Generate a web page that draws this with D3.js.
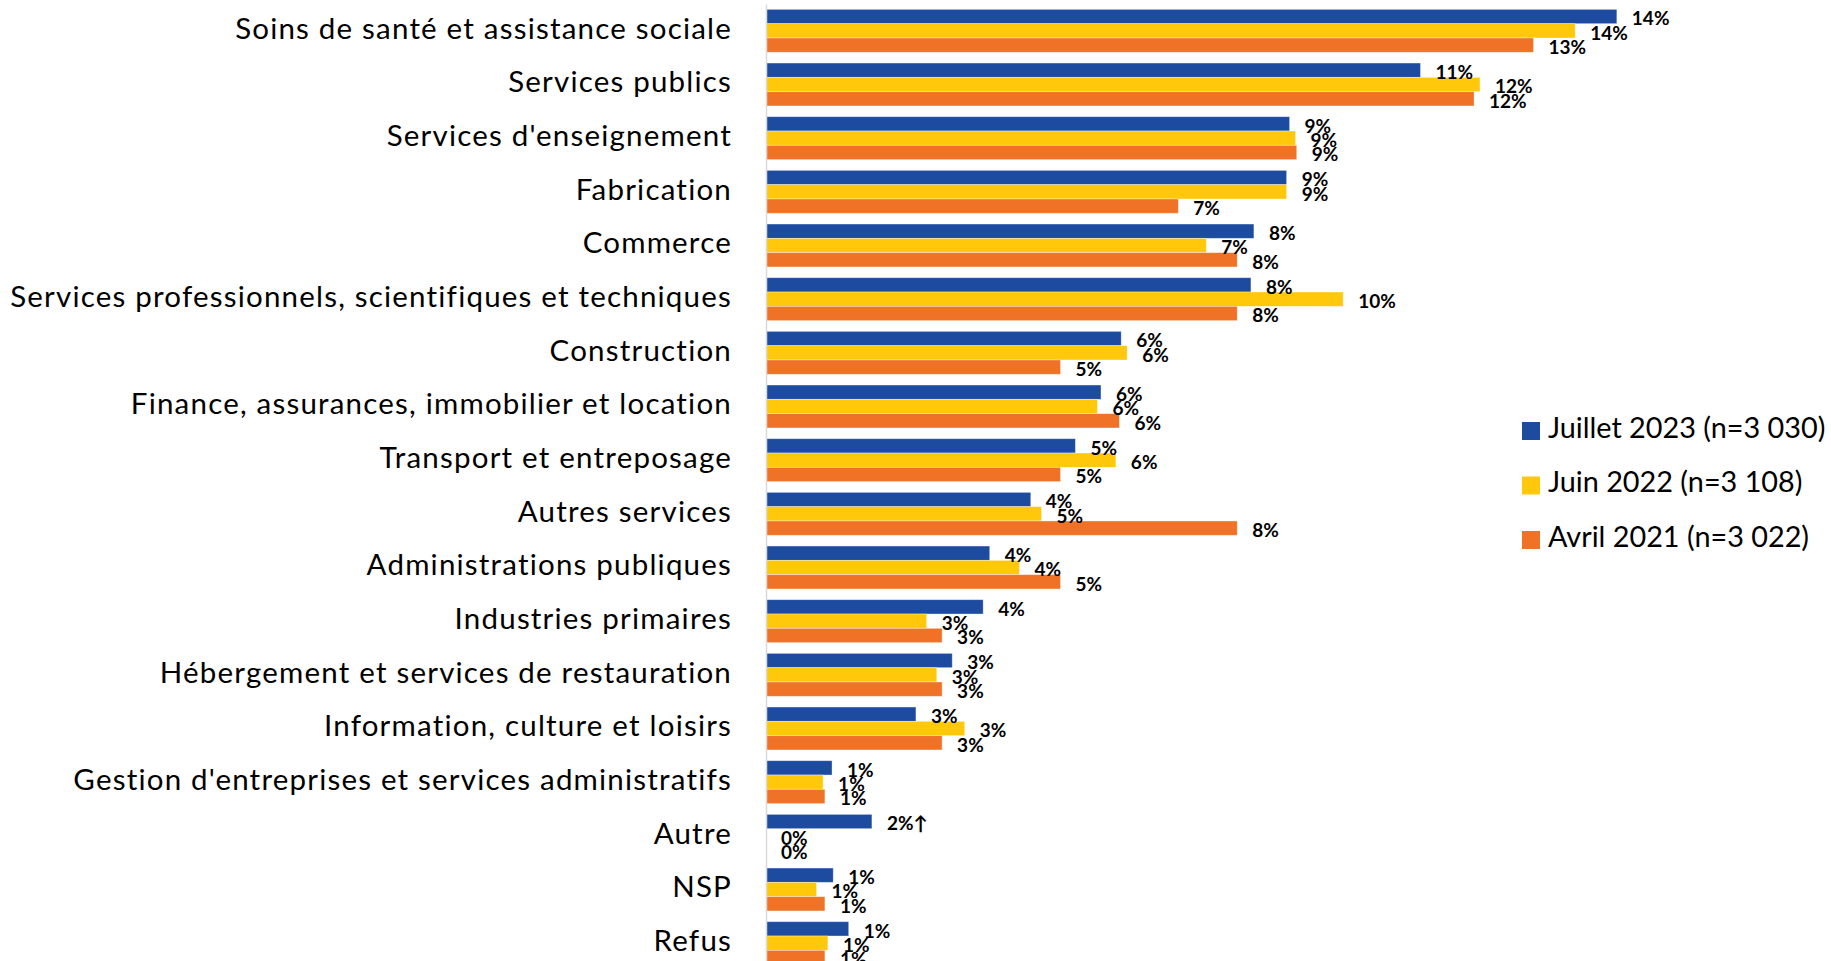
<!DOCTYPE html>
<html lang="fr">
<head>
<meta charset="utf-8">
<title>Secteur d'activité</title>
<script src="https://cdn.jsdelivr.net/npm/d3@7/dist/d3.min.js"></script>
<style>
  html, body { margin: 0; padding: 0; background: #ffffff; }
  svg { display: block; }
  .cat-axis text { font-family: Lato, "Open Sans", sans-serif; fill: #000; }
  .val { font-family: Lato, "Open Sans", sans-serif; font-weight: 700; fill: #000; }
  .legend text { font-family: Lato, "Open Sans", sans-serif; fill: #000; }
</style>
</head>
<body>
<svg id="chart" width="1831" height="961"></svg>
<script>
// Secteurs d'activité, du plus fréquent au moins fréquent (Juillet 2023)
const categories = [
  "Soins de santé et assistance sociale",
  "Services publics",
  "Services d'enseignement",
  "Fabrication",
  "Commerce",
  "Services professionnels, scientifiques et techniques",
  "Construction",
  "Finance, assurances, immobilier et location",
  "Transport et entreposage",
  "Autres services",
  "Administrations publiques",
  "Industries primaires",
  "Hébergement et services de restauration",
  "Information, culture et loisirs",
  "Gestion d'entreprises et services administratifs",
  "Autre",
  "NSP",
  "Refus"
];

// Vagues d'enquête (ordre d'affichage dans chaque groupe)
const seriesNames = ["Juillet 2023 (n=3 030)", "Juin 2022 (n=3 108)", "Avril 2021 (n=3 022)"];
const seriesColors = ["#1d4b9f", "#ffc80a", "#f07227"];

// Pourcentages par secteur
const juillet2023 = [14.3, 11.0, 8.8, 8.75, 8.2, 8.15, 5.97, 5.63, 5.2, 4.45, 3.76, 3.65, 3.13, 2.52, 1.11, 1.78, 1.13, 1.39];
const juin2022    = [13.6, 12.0, 8.9, 8.75, 7.4, 9.7, 6.07, 5.57, 5.88, 4.63, 4.26, 2.7, 2.87, 3.34, 0.96, 0, 0.85, 1.04];
const avril2021   = [12.9, 11.9, 8.92, 6.93, 7.92, 7.92, 4.95, 5.94, 4.95, 7.92, 4.95, 2.96, 2.96, 2.96, 0.99, 0, 0.99, 0.99];

// Hausses significatives signalées par une flèche (vague Juillet 2023)
const hausses2023 = ["Autre"];

const seriesValues = [juillet2023, juin2022, avril2021];

const rows = categories.map((c, i) => ({
  category: c,
  values: seriesNames.map((s, j) => ({ series: s, idx: j, value: seriesValues[j][i], category: c }))
}));

const svg = d3.select("#chart");

const x0 = 766;
const x = d3.scaleLinear().domain([0, 15]).range([x0, x0 + 15 * 59.5]);

const y = d3.scaleBand()
  .domain(categories)
  .range([4, 970])
  .paddingInner(0.2)
  .paddingOuter(0.1);

const ySeries = d3.scaleBand()
  .domain(seriesNames)
  .range([0, y.bandwidth()])
  .padding(0);

const color = d3.scaleOrdinal().domain(seriesNames).range(seriesColors);

// Barres
const groups = svg.append("g")
  .selectAll("g")
  .data(rows)
  .join("g")
  .attr("transform", d => `translate(0,${y(d.category)})`);

groups.selectAll("rect")
  .data(d => d.values)
  .join("rect")
  .attr("x", x(0))
  .attr("y", d => ySeries(d.series))
  .attr("width", d => x(d.value) - x(0))
  .attr("height", ySeries.bandwidth())
  .attr("fill", d => color(d.series))
  .attr("stroke", "#ffffff")
  .attr("stroke-opacity", 0.45)
  .attr("stroke-width", 0.8);

// Étiquettes de valeur
groups.selectAll("text")
  .data(d => d.values)
  .join("text")
  .attr("class", "val")
  .attr("x", d => x(d.value) + 15)
  .attr("y", d => ySeries(d.series) + ySeries.bandwidth() / 2 + 8.8)
  .attr("font-size", "19px")
  .text(d => Math.round(d.value) + "%" + (d.idx === 0 && hausses2023.includes(d.category) ? "↑" : ""));

// Axe des catégories
const axis = svg.append("g")
  .attr("class", "cat-axis")
  .attr("transform", `translate(${x0},0)`)
  .call(d3.axisLeft(y).tickSize(0).tickPadding(34));

axis.select(".domain")
  .attr("stroke", "#d9d9d9")
  .attr("stroke-width", 1.5);

axis.selectAll(".tick text")
  .attr("font-size", "29.5px")
  .attr("letter-spacing", "1.2px")
  .attr("dy", "0.26em")
  .attr("fill", "#000");

// Légende
const legend = svg.append("g")
  .attr("class", "legend")
  .attr("transform", "translate(1522,422)");

const items = legend.selectAll("g")
  .data(seriesNames)
  .join("g")
  .attr("transform", (d, i) => `translate(0,${i * 54.5})`);

items.append("rect")
  .attr("width", 18)
  .attr("height", 18)
  .attr("fill", d => color(d));

items.append("text")
  .attr("x", 26)
  .attr("y", 15.7)
  .attr("font-size", "28.8px")
  .text(d => d);
</script>
</body>
</html>
